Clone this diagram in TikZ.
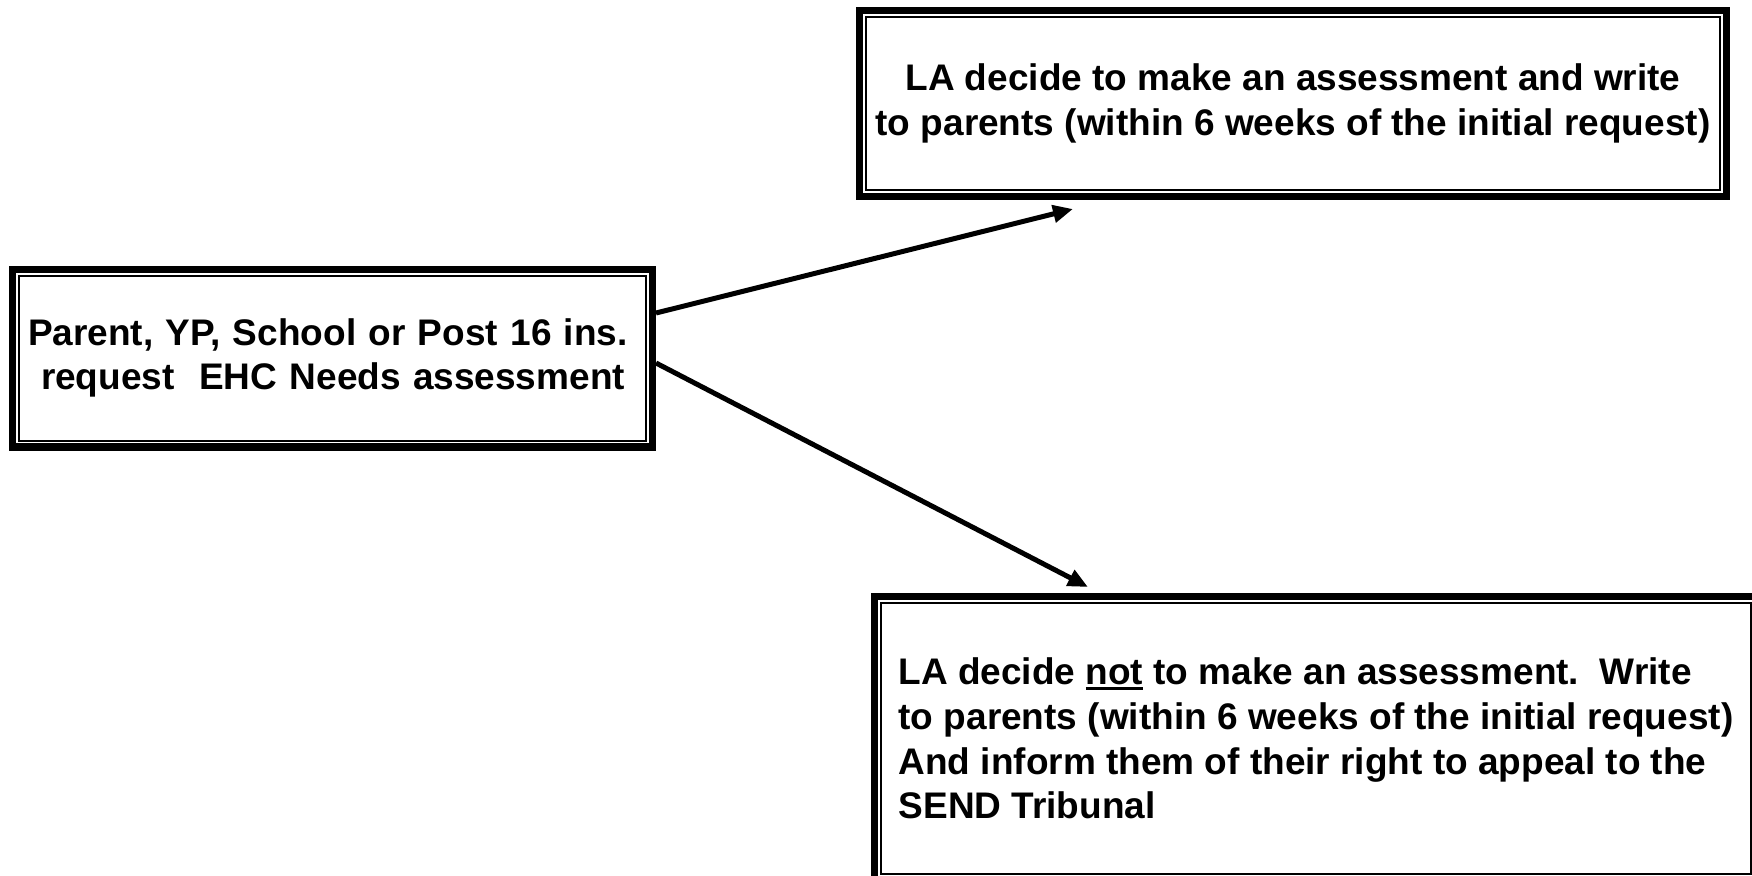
\documentclass[tikz,border=0pt]{standalone}
\usepackage{fontspec}
\setmainfont{Liberation Sans}
\usetikzlibrary{arrows.meta}
\newcommand\boxfont{\fontsize{37}{44.6}\selectfont\bfseries}
\newcommand\myul[1]{\setbox0\hbox{#1}\rlap{\rule[-5pt]{\wd0}{2.5pt}}\box0\relax}
\tikzset{
  frame/.style={draw=black, line width=7.4pt, outer sep=3.7pt, inner sep=0pt, font=\boxfont},
  inner frame/.style={draw=black, line width=2pt},
  conn/.style={draw=black, line width=5pt, -{Triangle[length=20pt,width=17pt]}}
}
\begin{document}
\begin{tikzpicture}[x=1pt,y=-1pt]
\useasboundingbox[fill=white] (0,0) rectangle (1752,875);
% boxes
\node[frame, minimum width=639.6pt, minimum height=177.6pt, text width=609pt, align=left]
  (req) at (332.5,358)
  {Parent, YP, School or Post 16 ins.\\\hspace*{13pt}request\ \ EHC Needs assessment};
\node[frame, minimum width=866.6pt, minimum height=185.6pt, align=center]
  (yes) at (1293,103.5)
  {LA decide to make an assessment and write\\to parents (within 6 weeks of the initial request)};
\node[frame, minimum width=882.6pt, minimum height=283.6pt, align=left]
  (no) at (1316,738.5)
  {LA decide \myul{not} to make an assessment.\ \ Write\\to parents (within 6 weeks of the initial request)\\And inform them of their right to appeal to the\\SEND Tribunal};
\foreach \b in {req,yes,no}
  \draw[inner frame] ([shift={(10pt,-10pt)}]\b.north west) rectangle ([shift={(-10pt,10pt)}]\b.south east);
% connectors
\coordinate (tipyes) at (1073,209);
\coordinate (tipno) at (1088,587);
\draw[conn] ([yshift=45pt]req.east) -- (tipyes);
\draw[conn] ([yshift=-5pt]req.east) -- (tipno);
\end{tikzpicture}
\end{document}
